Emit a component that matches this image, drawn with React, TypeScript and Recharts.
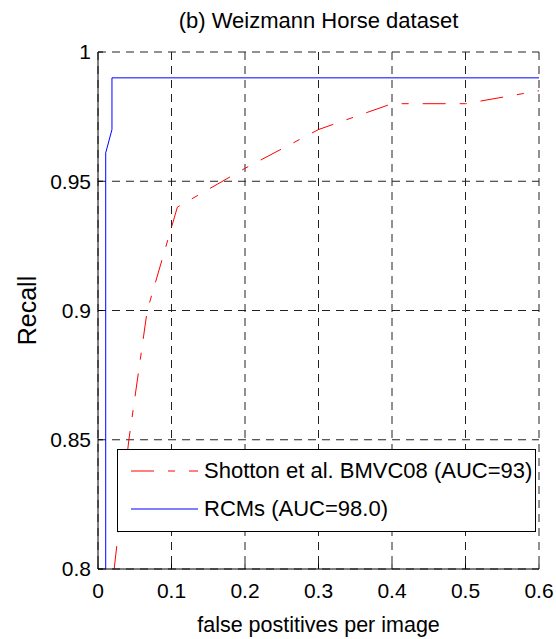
import React from 'react';
import { LineChart, Line, XAxis, YAxis, CartesianGrid, Legend } from 'recharts';

// axis ticks
const X_TICKS = [0, 0.1, 0.2, 0.3, 0.4, 0.5, 0.6];
const Y_TICKS = [0.8, 0.85, 0.9, 0.95, 1];

// Shotton et al. BMVC08 curve
const SHOTTON_FPPI = [0.022, 0.042, 0.067, 0.108, 0.2, 0.3, 0.4, 0.5, 0.6];
const SHOTTON_RECALL = [0.8, 0.85, 0.9, 0.94, 0.955, 0.97, 0.98, 0.98, 0.985];

// RCMs curve
const RCM_FPPI = [0.0105, 0.0105, 0.019, 0.019, 0.6];
const RCM_RECALL = [0.8, 0.961, 0.97, 0.99, 0.99];

const SHOTTON_NAME = 'Shotton et al. BMVC08 (AUC=93)';
const RCM_NAME = 'RCMs (AUC=98.0)';
const LEGEND_ORDER = [SHOTTON_NAME, RCM_NAME];

const toPoints = (xs: number[], ys: number[]) => xs.map((x, i) => ({ fppi: x, recall: ys[i] }));

const shottonData = toPoints(SHOTTON_FPPI, SHOTTON_RECALL);
const rcmData = toPoints(RCM_FPPI, RCM_RECALL);

const FONT = "'Liberation Sans', Arial, Helvetica, sans-serif";

const renderLegend = (props: any) => {
  const payload = [...(props.payload || [])].sort(
    (a: any, b: any) => LEGEND_ORDER.indexOf(a.value) - LEGEND_ORDER.indexOf(b.value)
  );
  return (
    <div
      style={{
        width: 419,
        height: 83,
        boxSizing: 'border-box',
        border: '1px solid #000',
        background: '#fff',
        paddingTop: 2,
        fontFamily: FONT,
        fontSize: 22,
        color: '#000',
      }}
    >
      {payload.map((entry: any) => (
        <div key={entry.value} style={{ height: 38, display: 'flex', alignItems: 'center' }}>
          <svg width={86} height={38} style={{ flex: 'none' }}>
            <line
              x1={13}
              x2={80}
              y1={19}
              y2={19}
              stroke={entry.color}
              strokeWidth={1}
              strokeDasharray={entry.payload?.strokeDasharray}
            />
          </svg>
          <span style={{ whiteSpace: 'nowrap' }}>{entry.value}</span>
        </div>
      ))}
    </div>
  );
};

const renderRecallLabel = (props: any) => {
  const { viewBox } = props;
  const cx = viewBox.x - 2;
  const cy = viewBox.y + viewBox.height / 2;
  return (
    <text
      x={cx}
      y={cy}
      transform={`rotate(-90 ${cx} ${cy})`}
      textAnchor="middle"
      fill="#000"
      fontSize={25}
      fontFamily={FONT}
    >
      Recall
    </text>
  );
};

const App: React.FC = () => {
  return (
    <div style={{ position: 'absolute', left: 0, top: 0, width: 556, height: 639, background: '#fff' }}>
      <div
        style={{
          position: 'absolute',
          left: 98,
          top: 8,
          width: 441,
          textAlign: 'center',
          fontFamily: FONT,
          fontSize: 22,
          lineHeight: '26px',
          color: '#000',
          zIndex: 1,
        }}
      >
        (b) Weizmann Horse dataset
      </div>
      <LineChart
        width={556}
        height={639}
        margin={{ top: 52, right: 17, bottom: 0, left: 38 }}
        style={{ fontFamily: FONT }}
      >
        <CartesianGrid stroke="#222" strokeDasharray="8 6" />
        <XAxis
          dataKey="fppi"
          type="number"
          domain={[0, 0.6]}
          ticks={X_TICKS}
          allowDataOverflow
          height={70}
          tickSize={-5}
          tickMargin={19}
          stroke="#000"
          tick={{ fill: '#000', fontSize: 21 }}
          label={{ value: 'false postitives per image', position: 'insideBottom', offset: 7, fill: '#000', fontSize: 21.5 }}
        />
        <XAxis
          xAxisId="top"
          orientation="top"
          type="number"
          domain={[0, 0.6]}
          ticks={X_TICKS}
          allowDataOverflow
          height={0}
          tickSize={-5}
          tick={false}
          stroke="#000"
        />
        <YAxis
          type="number"
          domain={[0.8, 1]}
          ticks={Y_TICKS}
          allowDataOverflow
          width={60}
          tickSize={-5}
          tickMargin={12}
          stroke="#000"
          tick={{ fill: '#000', fontSize: 21 }}
          label={{ content: renderRecallLabel }}
        />
        <YAxis
          yAxisId="right"
          orientation="right"
          type="number"
          domain={[0.8, 1]}
          ticks={Y_TICKS}
          allowDataOverflow
          width={0}
          tickSize={-5}
          tick={false}
          stroke="#000"
        />
        <Legend
          layout="vertical"
          align="center"
          verticalAlign="middle"
          content={renderLegend}
          wrapperStyle={{ left: 117, top: 449, width: 419, height: 83 }}
        />
        <Line
          data={shottonData}
          dataKey="recall"
          name={SHOTTON_NAME}
          type="linear"
          stroke="#ff0000"
          strokeWidth={1}
          strokeDasharray="23 14 7 14"
          dot={false}
          activeDot={false}
          isAnimationActive={false}
        />
        <Line
          data={rcmData}
          dataKey="recall"
          name={RCM_NAME}
          type="linear"
          stroke="#0000ff"
          strokeWidth={1}
          dot={false}
          activeDot={false}
          isAnimationActive={false}
        />
      </LineChart>
    </div>
  );
};

export default App;
